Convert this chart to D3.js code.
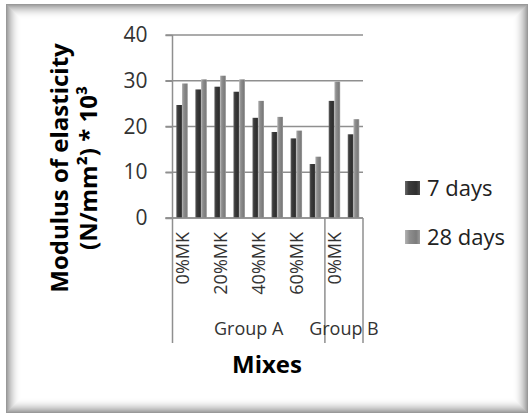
<!DOCTYPE html>
<html>
<head>
<meta charset="utf-8">
<script src="https://cdn.jsdelivr.net/npm/d3@7"></script>
<style>
  html, body { margin: 0; padding: 0; background: #fff; }
  text { font-family: "Open Sans", "Noto Sans", sans-serif; }
</style>
</head>
<body>
<div id="chart"></div>
<script>
'use strict'

// data
const categories = ['0%MK', '10%MK', '20%MK', '30%MK', '40%MK', '50%MK', '60%MK', '70%MK', '0%MK', '10%MK']
const groupNames = ['Group A', 'Group B']
const groupSizes = [8, 2]
const seriesNames = ['7 days', '28 days']
const days7 = [24.7, 28.1, 28.7, 27.6, 21.9, 18.8, 17.4, 11.8, 25.6, 18.3]
const days28 = [29.4, 30.3, 31.1, 30.3, 25.6, 22.1, 19.1, 13.4, 29.8, 21.6]
const yTicks = [0, 10, 20, 30, 40]

////////////////////////////////////
//////////// svg setup /////////////
////////////////////////////////////

const svgWidth = 530
const svgHeight = 415

const svg = d3.select('#chart')
    .append('svg')
    .attr('width', svgWidth)
    .attr('height', svgHeight)

const defs = svg.append('defs')

// cylinder-ish shading for the bars
function gradient(id, stops) {
    const g = defs.append('linearGradient')
        .attr('id', id)
        .attr('x1', '0%').attr('x2', '100%')
        .attr('y1', '0%').attr('y2', '0%')
    stops.forEach(s => g.append('stop').attr('offset', s[0]).attr('stop-color', s[1]))
}
gradient('g7', [['0%', '#6a6a6a'], ['25%', '#3c3c3c'], ['75%', '#2f2f2f'], ['100%', '#4a4a4a']])
gradient('g28', [['0%', '#b4b4b4'], ['30%', '#8e8e8e'], ['75%', '#7c7c7c'], ['100%', '#9a9a9a']])
const fills = ['url(#g7)', 'url(#g28)']

// frame with inner shadow
svg.append('rect')
    .attr('x', 6).attr('y', 4)
    .attr('width', 522).attr('height', 409)
    .attr('fill', '#fff')
for (let i = 0; i < 15; i++) {
    svg.append('rect')
        .attr('x', 6.5 + i).attr('y', 4.5 + i)
        .attr('width', 521 - 2 * i).attr('height', 408 - 2 * i)
        .attr('fill', 'none')
        .attr('stroke', '#555')
        .attr('stroke-opacity', 0.6 * Math.pow(1 - i / 15, 2))
}

////////////////////////////////////
//////////// scales ////////////////
////////////////////////////////////

const plotLeft = 172.5, plotRight = 363, plotTop = 35, plotBottom = 218

const x = d3.scaleBand()
    .domain(d3.range(categories.length))
    .range([plotLeft, plotRight])

const xInner = d3.scaleBand()
    .domain(seriesNames)
    .range([0, x.bandwidth()])
    .paddingOuter(0.66)

const y = d3.scaleLinear()
    .domain([0, 40])
    .range([plotBottom, plotTop])

////////////////////////////////////
//////////// grid & axes ///////////
////////////////////////////////////

svg.append('g')
    .selectAll('line')
    .data(yTicks)
    .join('line')
    .attr('x1', plotLeft - 7)
    .attr('x2', plotRight)
    .attr('y1', d => y(d))
    .attr('y2', d => y(d))
    .attr('stroke', '#8f8f8f')
    .attr('stroke-width', 1.5)

const yAxis = svg.append('g')
    .attr('transform', `translate(${plotLeft},0)`)
    .call(d3.axisLeft(y).tickValues(yTicks).tickSize(7).tickPadding(18))
yAxis.select('.domain').remove()
yAxis.selectAll('line').attr('stroke', '#8f8f8f').attr('stroke-width', 1.5)
yAxis.selectAll('text')
    .attr('font-family', '"Open Sans", sans-serif')
    .attr('font-size', 21)
    .attr('fill', '#333')

////////////////////////////////////
//////////// bars //////////////////
////////////////////////////////////

const series = [days7, days28]
series.forEach((vals, s) => {
    svg.append('g')
        .selectAll('rect')
        .data(vals)
        .join('rect')
        .attr('x', (d, i) => x(i) + xInner(seriesNames[s]))
        .attr('y', d => y(d))
        .attr('width', xInner.bandwidth())
        .attr('height', d => y(0) - y(d))
        .attr('fill', fills[s])
})

// axis lines on top of bars
const groupBounds = [0]
groupSizes.forEach((n, i) => groupBounds.push(groupBounds[i] + n))
const edgeX = i => i < categories.length ? x(i) : x(categories.length - 1) + x.bandwidth()

svg.append('line')
    .attr('x1', plotLeft).attr('x2', plotLeft)
    .attr('y1', plotTop).attr('y2', 343)
    .attr('stroke', '#8f8f8f').attr('stroke-width', 1.5)

svg.append('g')
    .selectAll('line')
    .data(groupBounds.slice(1))
    .join('line')
    .attr('x1', d => edgeX(d)).attr('x2', d => edgeX(d))
    .attr('y1', plotBottom).attr('y2', 343)
    .attr('stroke', '#8f8f8f').attr('stroke-width', 1.5)

svg.append('line')
    .attr('x1', plotLeft - 7).attr('x2', plotRight)
    .attr('y1', y(0)).attr('y2', y(0))
    .attr('stroke', '#8f8f8f').attr('stroke-width', 1.5)

////////////////////////////////////
//////////// labels ////////////////
////////////////////////////////////

// category labels, every second one shown
svg.append('g')
    .selectAll('text')
    .data(categories.map((c, i) => ({ c, i })).filter(d => d.i % 2 === 0))
    .join('text')
    .attr('transform', d => `translate(${x(d.i) + x.bandwidth() / 2 + 6.5},${plotBottom + 14}) rotate(-90)`)
    .attr('text-anchor', 'end')
    .attr('font-size', 18)
    .attr('fill', '#333')
    .text(d => d.c)

svg.append('g')
    .selectAll('text')
    .data(groupNames)
    .join('text')
    .attr('x', (d, i) => (edgeX(groupBounds[i]) + edgeX(groupBounds[i + 1])) / 2)
    .attr('y', 335)
    .attr('text-anchor', 'middle')
    .attr('font-size', 18)
    .attr('fill', '#333')
    .text(d => d)

// axis titles
const yTitle = svg.append('text')
    .attr('transform', 'translate(0,168) rotate(-90)')
    .attr('text-anchor', 'middle')
    .attr('font-size', 24)
    .attr('font-weight', 'bold')
    .attr('fill', '#000')
yTitle.append('tspan').attr('x', 0).attr('y', 68).text('Modulus of elasticity')
yTitle.append('tspan').attr('x', 0).attr('y', 97).text('(N/mm²) * 10³')

svg.append('text')
    .attr('x', 267)
    .attr('y', 373)
    .attr('text-anchor', 'middle')
    .attr('font-size', 24)
    .attr('font-weight', 'bold')
    .attr('fill', '#000')
    .text('Mixes')

////////////////////////////////////
//////////// legend ////////////////
////////////////////////////////////

const legend = svg.append('g')
    .selectAll('g')
    .data(seriesNames)
    .join('g')
    .attr('transform', (d, i) => `translate(405,${181 + i * 49})`)

legend.append('rect')
    .attr('width', 15).attr('height', 14)
    .attr('fill', (d, i) => fills[i])

legend.append('text')
    .attr('x', 22)
    .attr('y', 15)
    .attr('font-size', 22)
    .attr('fill', '#222')
    .text(d => d)
</script>
</body>
</html>
